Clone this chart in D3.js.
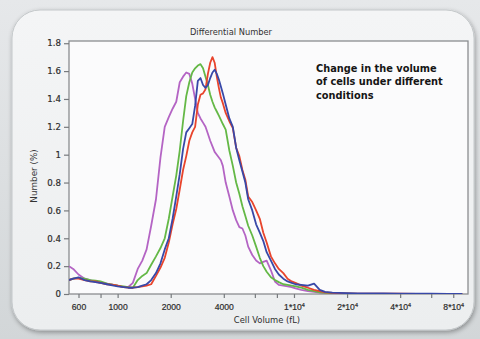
<!DOCTYPE html>
<html>
<head>
<meta charset="utf-8">
<script src="https://cdn.jsdelivr.net/npm/d3@7"></script>
<style>
  body { margin: 0; background: #dfe2e4; }
  svg { display: block; font-family: "DejaVu Sans", Verdana, sans-serif; }
</style>
</head>
<body>
<div id="chart"></div>
<script>
// cell volume (fL), shared by all four curves
var volume = [530, 560, 600, 650, 700, 750, 800, 870, 950, 1000,
  1080, 1150, 1220, 1300, 1380, 1460, 1550, 1650, 1750, 1850,
  1950, 2050, 2150, 2250, 2350, 2450, 2550, 2650, 2750, 2850,
  2950, 3050, 3150, 3250, 3350, 3450, 3550, 3650, 3750, 3850,
  3950, 4100, 4300, 4500, 4700, 4900, 5100, 5300, 5500, 5800,
  6100, 6400, 6700, 7000, 7400, 7800, 8200, 8700, 9200, 9700,
  10200, 11000, 12000, 13000, 14000, 15000, 16500, 18000, 20000, 23000,
  27000, 32000, 40000, 50000, 60000, 75000, 90000];

var purpleNumber = [0.20, 0.18, 0.14, 0.11, 0.10, 0.085, 0.08, 0.075, 0.066, 0.06,
  0.05, 0.05, 0.08, 0.18, 0.24, 0.32, 0.49, 0.68, 0.98, 1.20,
  1.27, 1.33, 1.38, 1.52, 1.56, 1.59, 1.58, 1.51, 1.40, 1.30,
  1.26, 1.23, 1.20, 1.15, 1.10, 1.06, 1.02, 1.00, 0.98, 0.96,
  0.92, 0.80, 0.70, 0.60, 0.53, 0.48, 0.47, 0.42, 0.34, 0.28,
  0.24, 0.22, 0.23, 0.24, 0.17, 0.09, 0.065, 0.06, 0.055, 0.05,
  0.04, 0.03, 0.02, 0.015, 0.01, 0.005, 0.003, 0.002, 0.001, 0,
  0, 0, 0, 0, 0, 0, 0];

var greenNumber = [0.10, 0.11, 0.115, 0.11, 0.10, 0.095, 0.09, 0.075, 0.065, 0.06,
  0.055, 0.05, 0.045, 0.10, 0.13, 0.15, 0.21, 0.27, 0.33, 0.40,
  0.54, 0.70, 0.85, 1.03, 1.24, 1.42, 1.52, 1.59, 1.62, 1.64,
  1.65, 1.62, 1.56, 1.50, 1.43, 1.38, 1.34, 1.31, 1.28, 1.25,
  1.22, 1.18, 1.03, 0.92, 0.80, 0.72, 0.63, 0.56, 0.49, 0.42,
  0.34, 0.26, 0.20, 0.16, 0.12, 0.10, 0.085, 0.07, 0.065, 0.06,
  0.055, 0.045, 0.03, 0.02, 0.012, 0.008, 0.005, 0.003, 0.002, 0.001,
  0, 0, 0, 0, 0, 0, 0];

var blueNumber = [0.10, 0.11, 0.12, 0.10, 0.09, 0.085, 0.08, 0.07, 0.06, 0.055,
  0.05, 0.045, 0.045, 0.05, 0.06, 0.07, 0.10, 0.15, 0.22, 0.32,
  0.40, 0.54, 0.70, 0.86, 1.04, 1.16, 1.19, 1.22, 1.35, 1.53,
  1.55, 1.50, 1.48, 1.50, 1.55, 1.59, 1.61, 1.58, 1.54, 1.49,
  1.44, 1.36, 1.26, 1.20, 1.05, 0.96, 0.88, 0.80, 0.68, 0.60,
  0.50, 0.44, 0.38, 0.30, 0.24, 0.18, 0.14, 0.11, 0.09, 0.08,
  0.07, 0.065, 0.06, 0.075, 0.03, 0.015, 0.01, 0.008, 0.006, 0.005,
  0.004, 0.004, 0.003, 0.003, 0.002, 0.001, 0.001];

var redNumber = [0.10, 0.11, 0.11, 0.10, 0.09, 0.09, 0.08, 0.07, 0.065, 0.06,
  0.05, 0.045, 0.045, 0.05, 0.055, 0.06, 0.07, 0.13, 0.19, 0.26,
  0.37, 0.50, 0.61, 0.75, 0.89, 0.99, 1.10, 1.16, 1.20, 1.36,
  1.43, 1.44, 1.47, 1.58, 1.66, 1.70, 1.66, 1.56, 1.48, 1.41,
  1.37, 1.30, 1.24, 1.19, 1.05, 0.99, 0.89, 0.82, 0.70, 0.66,
  0.60, 0.54, 0.44, 0.37, 0.27, 0.22, 0.18, 0.15, 0.11, 0.09,
  0.08, 0.06, 0.045, 0.03, 0.02, 0.012, 0.008, 0.005, 0.004, 0.003,
  0.003, 0.002, 0.002, 0.001, 0.001, 0, 0];

var xTicks = [600, 800, 1000, 2000, 4000, 6000, 8000, 10000, 20000, 40000, 60000, 80000];
var xLabels = {600: "600", 1000: "1000", 2000: "2000", 4000: "4000",
               10000: "1", 20000: "2", 40000: "4", 80000: "8"};
var yTicks = [0, 0.2, 0.4, 0.6, 0.8, 1, 1.2, 1.4, 1.6, 1.8];

var width = 480, height = 339;
var margin = {top: 41, right: 12, bottom: 45, left: 69};

var svg = d3.select("#chart")
            .append("svg")
            .attr("width", width)
            .attr("height", height);

var defs = svg.append("defs");

var bgGrad = defs.append("linearGradient").attr("id", "bgGrad")
                 .attr("x1", 0).attr("y1", 0).attr("x2", 0).attr("y2", 1);
bgGrad.append("stop").attr("offset", 0).attr("stop-color", "#e6e8ea");
bgGrad.append("stop").attr("offset", 1).attr("stop-color", "#d2d6d8");

var panelGrad = defs.append("linearGradient").attr("id", "panelGrad")
                    .attr("x1", 0).attr("y1", 0).attr("x2", 0).attr("y2", 1);
panelGrad.append("stop").attr("offset", 0).attr("stop-color", "#f4f5f6");
panelGrad.append("stop").attr("offset", 1).attr("stop-color", "#eceeef");

var shadow = defs.append("filter").attr("id", "shadow")
                 .attr("x", "-5%").attr("y", "-5%").attr("width", "110%").attr("height", "110%");
shadow.append("feGaussianBlur").attr("in", "SourceAlpha").attr("stdDeviation", 2.5);
shadow.append("feOffset").attr("dx", 1).attr("dy", 2).attr("result", "blur");
shadow.append("feComponentTransfer").append("feFuncA").attr("type", "linear").attr("slope", 0.35);
var merge = shadow.append("feMerge");
merge.append("feMergeNode");
merge.append("feMergeNode").attr("in", "SourceGraphic");

svg.append("rect")
   .attr("width", width).attr("height", height)
   .attr("fill", "url(#bgGrad)");

// rounded panel behind the chart
svg.append("rect")
   .attr("x", 12).attr("y", 10)
   .attr("width", 462).attr("height", 320)
   .attr("rx", 28).attr("ry", 28)
   .attr("fill", "url(#panelGrad)")
   .attr("stroke", "#c4c8ca")
   .attr("stroke-width", 1)
   .attr("filter", "url(#shadow)");

var x = d3.scaleLog()
          .domain([530, 97000])
          .range([margin.left, width - margin.right]);

var y = d3.scaleLinear()
          .domain([0, 1.816])
          .range([height - margin.bottom, margin.top]);

// plot area
svg.append("rect")
   .attr("x", margin.left).attr("y", margin.top)
   .attr("width", width - margin.right - margin.left)
   .attr("height", height - margin.bottom - margin.top)
   .attr("fill", "#fbfbfc")
   .attr("stroke", "#8a8d90")
   .attr("stroke-width", 1.3);

/***** axes ******/
var gx = svg.append("g")
            .attr("class", "axis axis--x")
            .attr("transform", "translate(0," + (height - margin.bottom) + ")")
            .call(d3.axisBottom(x).tickValues(xTicks).tickSize(4).tickFormat(""));

var gy = svg.append("g")
            .attr("class", "axis axis--y")
            .attr("transform", "translate(" + margin.left + ",0)")
            .call(d3.axisLeft(y).tickValues(yTicks).tickSize(5).tickFormat(d3.format("~g")));

svg.selectAll(".axis .domain").remove();
svg.selectAll(".axis .tick line").attr("stroke", "#777a7d").attr("stroke-width", 1.2);
gy.selectAll(".tick text")
  .attr("x", -8)
  .style("font-size", "8.6px")
  .style("font-family", "DejaVu Sans, Verdana, sans-serif")
  .attr("fill", "#2c2c2c")
  .attr("stroke", "#2c2c2c")
  .attr("stroke-width", 0.2);

// x labels, powers of ten get a raised exponent
gx.selectAll(".tick")
  .filter(function(d) { return xLabels[d] !== undefined; })
  .each(function(d) {
      var t = d3.select(this).append("text")
                .attr("y", 16)
                .attr("text-anchor", "middle")
                .attr("fill", "#2c2c2c")
                .attr("stroke", "#2c2c2c")
                .attr("stroke-width", 0.2)
                .style("font-size", "8.6px");
      if (d >= 10000) {
          t.append("tspan").text(xLabels[d] + "*10");
          t.append("tspan").attr("dy", -3).style("font-size", "5.5px").text("4");
      } else {
          t.text(xLabels[d]);
      }
  });

/***** curves ******/
var series = [
  {name: "purple", values: purpleNumber, color: "#b464c4"},
  {name: "green",  values: greenNumber,  color: "#64b846"},
  {name: "red",    values: redNumber,    color: "#e8442c"},
  {name: "blue",   values: blueNumber,   color: "#3848a8"}
];

var line = d3.line()
             .x(function(d) { return x(d[0]); })
             .y(function(d) { return y(d[1]); });

svg.append("defs").append("clipPath").attr("id", "plotClip")
   .append("rect")
   .attr("x", margin.left).attr("y", margin.top - 5)
   .attr("width", width - margin.right - margin.left)
   .attr("height", height - margin.bottom - margin.top + 5);

svg.append("g")
   .attr("clip-path", "url(#plotClip)")
   .selectAll("path.curve")
   .data(series)
   .enter()
   .append("path")
   .attr("class", "curve")
   .attr("fill", "none")
   .attr("stroke", function(d) { return d.color; })
   .attr("stroke-width", 1.8)
   .attr("stroke-linejoin", "round")
   .attr("d", function(d) {
       return line(volume.map(function(v, i) { return [v, d.values[i]]; }));
   });

/***** titles ******/
svg.append("text")
   .attr("x", 231).attr("y", 35)
   .attr("text-anchor", "middle")
   .attr("fill", "#333")
   .style("font-size", "8.3px")
   .text("Differential Number");

svg.append("text")
   .attr("transform", "translate(37," + 176 + ") rotate(-90)")
   .attr("text-anchor", "middle")
   .attr("fill", "#333")
   .style("font-size", "8.8px")
   .text("Number (%)");

svg.append("text")
   .attr("x", 267).attr("y", 323)
   .attr("text-anchor", "middle")
   .attr("fill", "#2c2c2c")
   .style("font-size", "8.4px")
   .text("Cell Volume (fL)");

var note = svg.append("text")
              .attr("x", 316).attr("y", 72)
              .attr("fill", "#151515")
              .style("font-size", "9.8px")
              .style("font-weight", "bold");
["Change in the volume", "of cells under different", "conditions"].forEach(function(s, i) {
    note.append("tspan").attr("x", 316).attr("dy", i ? 13.4 : 0).text(s);
});
</script>
</body>
</html>
